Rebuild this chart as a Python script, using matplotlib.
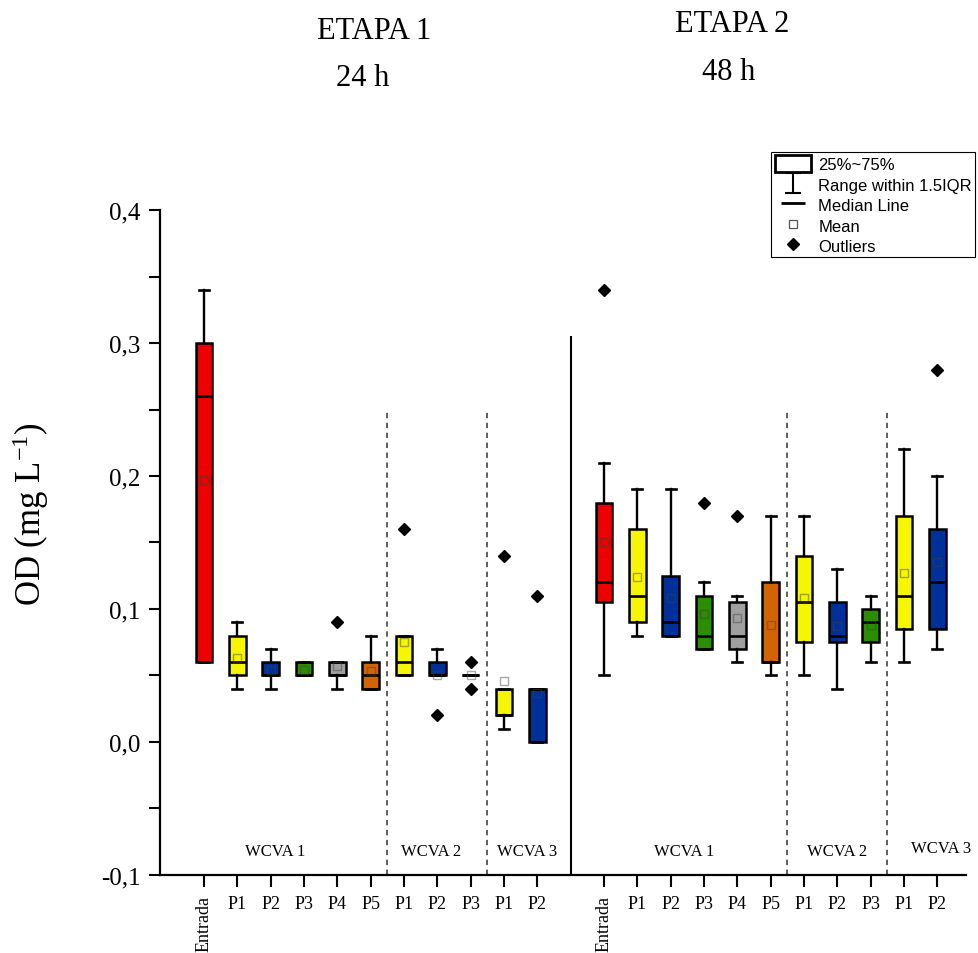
import numpy as np
import matplotlib.pyplot as plt
from matplotlib.lines import Line2D
from matplotlib.patches import Patch
from matplotlib.path import Path

plt.rcParams['font.family'] = 'Liberation Serif'
plt.rcParams['mathtext.default'] = 'regular'

# sampling points, same order in both stages
labels = ['Entrada', 'P1', 'P2', 'P3', 'P4', 'P5', 'P1', 'P2', 'P3', 'P1', 'P2']
groups = ['WCVA 1', 'WCVA 2', 'WCVA 3']
box_colors = ['#EC0000', '#F6F600', '#00309A', '#2A8E00', '#A0A0A0', '#D46400',
              '#F6F600', '#00309A', '#2A8E00', '#F6F600', '#00309A']

# ETAPA 1 (24 h)
e1_whislo = [0.06, 0.04, 0.04, 0.05, 0.04, 0.04, 0.05, 0.05, 0.05, 0.01, 0.00]
e1_q1     = [0.06, 0.05, 0.05, 0.05, 0.05, 0.04, 0.05, 0.05, 0.05, 0.02, 0.00]
e1_med    = [0.26, 0.06, 0.05, 0.05, 0.05, 0.05, 0.06, 0.05, 0.05, 0.02, 0.04]
e1_q3     = [0.30, 0.08, 0.06, 0.06, 0.06, 0.06, 0.08, 0.06, 0.05, 0.04, 0.04]
e1_whishi = [0.34, 0.09, 0.07, 0.06, 0.06, 0.08, 0.08, 0.07, 0.05, 0.04, 0.04]
e1_mean   = [0.197, 0.063, 0.054, 0.054, 0.057, 0.053, 0.075, 0.050, 0.050, 0.046, 0.037]
e1_out    = [[], [], [], [], [0.09], [], [0.16], [0.02], [0.04, 0.06], [0.14], [0.11]]

# ETAPA 2 (48 h)
e2_whislo = [0.05, 0.08, 0.08, 0.07, 0.06, 0.05, 0.05, 0.04, 0.06, 0.06, 0.07]
e2_q1     = [0.105, 0.09, 0.08, 0.07, 0.07, 0.06, 0.075, 0.075, 0.075, 0.085, 0.085]
e2_med    = [0.12, 0.11, 0.09, 0.08, 0.08, 0.06, 0.105, 0.08, 0.09, 0.11, 0.12]
e2_q3     = [0.18, 0.16, 0.125, 0.11, 0.105, 0.12, 0.14, 0.105, 0.10, 0.17, 0.16]
e2_whishi = [0.21, 0.19, 0.19, 0.12, 0.11, 0.17, 0.17, 0.13, 0.11, 0.22, 0.20]
e2_mean   = [0.150, 0.124, 0.108, 0.096, 0.093, 0.088, 0.108, 0.087, 0.088, 0.127, 0.135]
e2_out    = [[0.34], [], [], [0.18], [0.17], [], [], [], [], [], [0.28]]

stats = []
for wl, a, m, b, wh, mu, fl in zip(e1_whislo + e2_whislo, e1_q1 + e2_q1, e1_med + e2_med,
                                   e1_q3 + e2_q3, e1_whishi + e2_whishi,
                                   e1_mean + e2_mean, e1_out + e2_out):
    stats.append(dict(whislo=wl, q1=a, med=m, q3=b, whishi=wh, mean=mu, fliers=fl))

pos = np.r_[1:12, 13:24]

fig = plt.figure(figsize=(9.79, 9.54), dpi=100)
ax = fig.add_axes([0.1634, 0.0818, 0.8233, 0.697])

bp = ax.bxp(stats, positions=pos, widths=0.5, capwidths=0.3, patch_artist=True,
            showmeans=True,
            boxprops=dict(linewidth=1.8, edgecolor='black'),
            whiskerprops=dict(linewidth=1.7, color='black'),
            capprops=dict(linewidth=1.9, color='black'),
            medianprops=dict(linewidth=1.9, color='black'),
            meanprops=dict(marker='s', markersize=5.5, markerfacecolor='none',
                           markeredgecolor=(0.25, 0.25, 0.25, 0.45), markeredgewidth=1),
            flierprops=dict(marker='D', markersize=6.5, markerfacecolor='black',
                            markeredgecolor='black'))
for patch, c in zip(bp['boxes'], box_colors * 2):
    patch.set_facecolor(c)

# stage divider and group dividers
ax.vlines(12, -0.1, 0.305, color='black', linewidth=1.5)
ax.vlines([6.5, 9.5, 18.5, 21.5], -0.1, 0.25, color='#333333', linewidth=1.1,
          linestyles=(0, (3.5, 3)))

# group names inside the plot
for x, y, g in [(3.13, -0.082, 0), (7.8, -0.082, 1), (10.7, -0.082, 2),
                (15.4, -0.082, 0), (20.0, -0.082, 1), (23.1, -0.08, 2)]:
    ax.text(x, y, groups[g], ha='center', va='center', fontsize=12)

ax.set_xlim(-0.32, 23.86)
ax.set_ylim(-0.1, 0.4)
ax.set_xticks(pos, labels * 2)
for t in ax.get_xticklabels():
    if t.get_text() == 'Entrada':
        t.set_rotation(90)
ax.set_yticks(np.arange(-0.1, 0.41, 0.1))
ax.set_yticks(np.arange(-0.05, 0.4, 0.1), minor=True)
ax.yaxis.set_major_formatter(lambda v, p: f'{v:.1f}'.replace('.', ','))
ax.tick_params(axis='x', direction='out', length=8.5, width=1.5, labelsize=13, pad=6)
ax.tick_params(axis='y', which='both', direction='out', length=8, width=1.5,
               labelsize=18, pad=6)

for s in ['top', 'right']:
    ax.spines[s].set_visible(False)
for s in ['left', 'bottom']:
    ax.spines[s].set_linewidth(1.6)

ax.set_ylabel('OD (mg L$^{-1}$)', fontsize=25, va='center')
ax.yaxis.set_label_coords(-0.161, 0.544)

fig.text(0.382, 0.9665, 'ETAPA 1', ha='center', va='center', fontsize=22)
fig.text(0.370, 0.918, '24 h', ha='center', va='center', fontsize=22)
fig.text(0.748, 0.974, 'ETAPA 2', ha='center', va='center', fontsize=22)
fig.text(0.744, 0.9245, '48 h', ha='center', va='center', fontsize=22)

# legend symbols
ibar = Path([(-0.8, 1), (0.8, 1), (0, 1), (0, -1), (-0.8, -1), (0.8, -1)],
            [Path.MOVETO, Path.LINETO, Path.MOVETO, Path.LINETO, Path.MOVETO, Path.LINETO])
handles = [
    Patch(facecolor='white', edgecolor='black', linewidth=2),
    Line2D([], [], marker=ibar, linestyle='none', markersize=15, markerfacecolor='none',
           markeredgecolor='black', markeredgewidth=1.5),
    Line2D([], [], marker='_', linestyle='none', markersize=17, markeredgewidth=2,
           color='black'),
    Line2D([], [], marker='s', linestyle='none', markersize=5.5, markerfacecolor='none',
           markeredgecolor='#555555', markeredgewidth=0.9),
    Line2D([], [], marker='D', linestyle='none', markersize=6, color='black'),
]
leg = fig.legend(handles, ['25%~75%', 'Range within 1.5IQR', 'Median Line', 'Mean', 'Outliers'],
                 loc='upper right', bbox_to_anchor=(0.996, 0.84), frameon=True, fancybox=False,
                 edgecolor='black', framealpha=1, borderpad=0.2, borderaxespad=0,
                 handlelength=2.2, handleheight=1.2, labelspacing=0.2, handletextpad=0.4,
                 prop={'family': 'Liberation Sans', 'size': 12})
leg.get_frame().set_linewidth(0.8)

fig.savefig('out.png', dpi=100)
